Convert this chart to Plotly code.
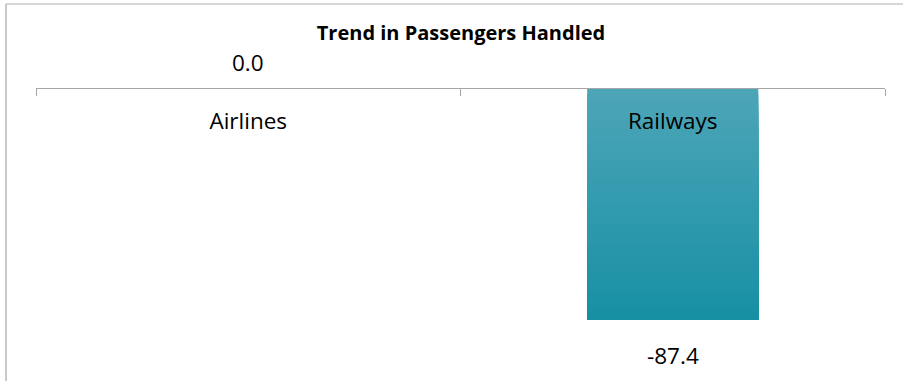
import plotly.graph_objects as go

categories = ["Airlines", "Railways"]
values = [0.0, -87.4]
value_labels = ["0.0", "-87.4"]
title_text = "Trend in Passengers Handled"

top_rgb = (77, 165, 184)
bot_rgb = (24, 144, 164)
N = 40
FONT = "Open Sans, sans-serif"

fig = go.Figure()
for i in range(N):
    t = i / (N - 1)
    c = tuple(round(top_rgb[k] + (bot_rgb[k] - top_rgb[k]) * t) for k in range(3))
    # each segment runs from its own start to the end of the bar; later ones overlay
    fig.add_trace(go.Bar(
        x=categories,
        y=[v * (1 - i / N) for v in values],
        base=[v * i / N for v in values],
        width=0.403,
        marker=dict(color="rgb(%d,%d,%d)" % c, line=dict(width=0)),
        hoverinfo="skip",
        showlegend=False,
    ))

for cat, v, lab in zip(categories, values, value_labels):
    fig.add_annotation(
        x=cat, y=v, text=lab, showarrow=False,
        yshift=26 if v >= 0 else -35,
        font=dict(family=FONT, size=22.5, color="#000"),
    )

ymin = -87.4 * 252 / 232
fig.update_layout(
    width=903, height=381,
    margin=dict(l=36, r=18, t=88, b=41),
    paper_bgcolor="white", plot_bgcolor="white",
    barmode="overlay",
    title=dict(text="<b>" + title_text + "</b>", x=461 / 903, xanchor="center",
               y=1 - 33 / 381, yanchor="middle",
               font=dict(family=FONT, size=20, color="#000")),
    xaxis=dict(
        anchor="free", position=1, side="bottom",
        showline=True, linecolor="#a6a6a6", linewidth=1,
        ticks="outside", tickson="boundaries", ticklen=7, tickcolor="#a6a6a6",
        ticklabelstandoff=13,
        tickfont=dict(family=FONT, size=22.5, color="#000"),
        showgrid=False, zeroline=False,
    ),
    yaxis=dict(range=[ymin, 0], visible=False, showgrid=False, zeroline=False),
    shapes=[
        dict(type="line", xref="paper", yref="paper",
             x0=(6 - 36) / 849, x1=(6 - 36) / 849, y0=-0.5, y1=(340 - 4) / 252,
             line=dict(color="#c8c8c8", width=2)),
        dict(type="line", xref="paper", yref="paper",
             x0=(6 - 36) / 849, x1=1.2, y0=(340 - 4) / 252, y1=(340 - 4) / 252,
             line=dict(color="#c8c8c8", width=1.5)),
    ],
)

fig.write_html("out.html", config={"displayModeBar": False},
               post_script="document.body.style.margin='0px';")
